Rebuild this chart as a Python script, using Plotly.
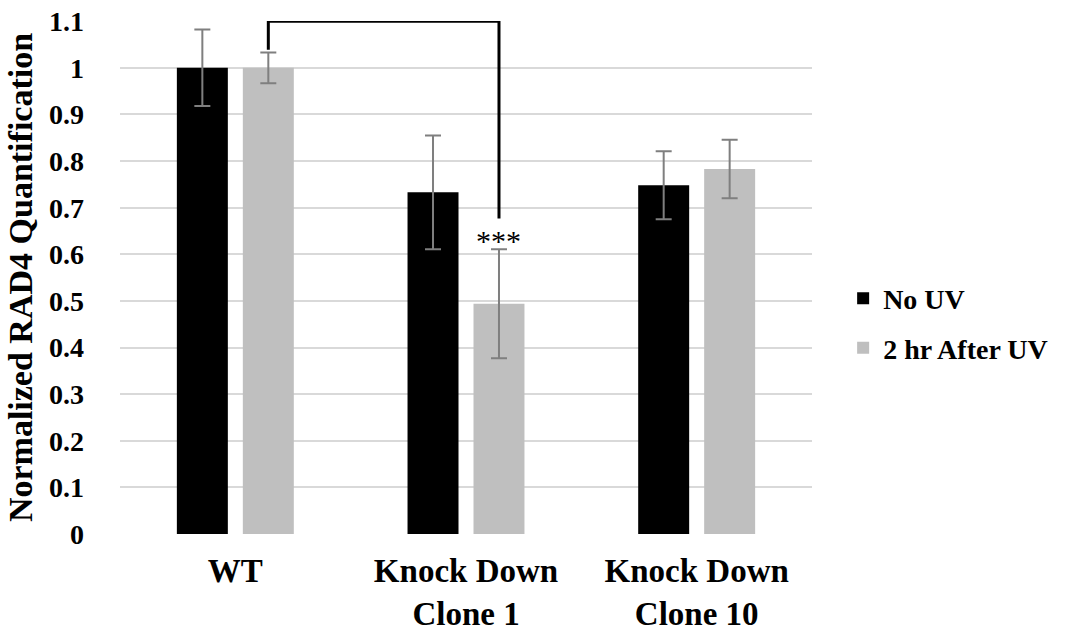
import plotly.graph_objects as go

# ---- data ----
categories = ["WT", "Knock Down<br>Clone 1", "Knock Down<br>Clone 10"]
no_uv = [1.0, 0.733, 0.748]
no_uv_err = [0.082, 0.122, 0.073]
after_uv = [1.0, 0.494, 0.783]
after_uv_err = [0.033, 0.117, 0.063]
series_names = ["No UV", "2 hr After UV"]
y_ticks = [0, 0.1, 0.2, 0.3, 0.4, 0.5, 0.6, 0.7, 0.8, 0.9, 1.0, 1.1]
y_tick_labels = ["0", "0.1", "0.2", "0.3", "0.4", "0.5", "0.6", "0.7", "0.8", "0.9", "1", "1.1"]
sig_label = "***"

# ---- geometry / style ----
BAR_W = 0.221
GAP = 0.065
FONT = "Liberation Serif, Times New Roman, serif"
xpos = list(range(len(categories)))

fig = go.Figure()
fig.add_trace(go.Bar(
    x=xpos, y=no_uv, name=series_names[0],
    width=BAR_W, offset=-(BAR_W + GAP / 2),
    marker=dict(color="#000000", line=dict(width=0)),
    error_y=dict(type="data", array=no_uv_err, color="#7f7f7f", thickness=2, width=8),
    legendgroup="a",
))
fig.add_trace(go.Bar(
    x=xpos, y=after_uv, name=series_names[1],
    width=BAR_W, offset=GAP / 2,
    marker=dict(color="#bfbfbf", line=dict(width=0)),
    error_y=dict(type="data", array=after_uv_err, color="#7f7f7f", thickness=2, width=8),
    legendgroup="b",
))

# significance bracket between WT (after UV) and KD clone 1 (after UV)
gx0 = xpos[0] + GAP / 2 + BAR_W / 2
gx1 = xpos[1] + GAP / 2 + BAR_W / 2
top = y_ticks[-1]
left_bottom = after_uv[0] + after_uv_err[0] + 0.006
right_bottom = after_uv[1] + after_uv_err[1] + 0.066
fig.add_shape(type="path",
              path=f"M {gx0},{left_bottom} L {gx0},{top} L {gx1},{top} L {gx1},{right_bottom}",
              xref="x", yref="y", line=dict(color="#000000", width=3))
fig.add_annotation(x=gx1, y=after_uv[1] + after_uv_err[1] + 0.019, xref="x", yref="y",
                   text=sig_label, showarrow=False,
                   font=dict(family=FONT, size=30, color="#000000"))

fig.update_layout(
    width=1076, height=634,
    margin=dict(l=120, r=264, t=21, b=100, autoexpand=False),
    paper_bgcolor="white", plot_bgcolor="white",
    barmode="group",
    font=dict(family=FONT, color="#000000"),
    showlegend=True,
    legend=dict(x=1.045, y=0.411, xanchor="left", yanchor="middle",
                font=dict(family=FONT, size=28, color="#000000", weight="bold"),
                traceorder="grouped", tracegroupgap=10, itemwidth=30),
    xaxis=dict(range=[-0.5, 2.5], tickvals=xpos,
               ticktext=["<b>" + c.replace("<br>", "</b><br><b>") + "</b>" for c in categories],
               tickfont=dict(family=FONT, size=33, color="#000000"),
               showgrid=False, zeroline=False, showline=False, automargin=False,
               ticks="", ticklabelstandoff=14, ticklabeloverflow="allow"),
    yaxis=dict(range=[0, 1.1005], tickvals=y_ticks, ticktext=y_tick_labels,
               tickfont=dict(family=FONT, size=28, color="#000000", weight="bold"),
               showgrid=True, gridcolor="#d9d9d9", gridwidth=2, automargin=False,
               zeroline=False, showline=False, ticks="", ticklabelstandoff=35,
               ticklabeloverflow="allow",
               title=dict(text="Normalized RAD4 Quantification",
                          font=dict(family=FONT, size=34, color="#000000", weight="bold"),
                          standoff=6)),
)

fig.write_html("out.html", config={"displayModeBar": False},
               post_script="document.body.style.margin='0';")
